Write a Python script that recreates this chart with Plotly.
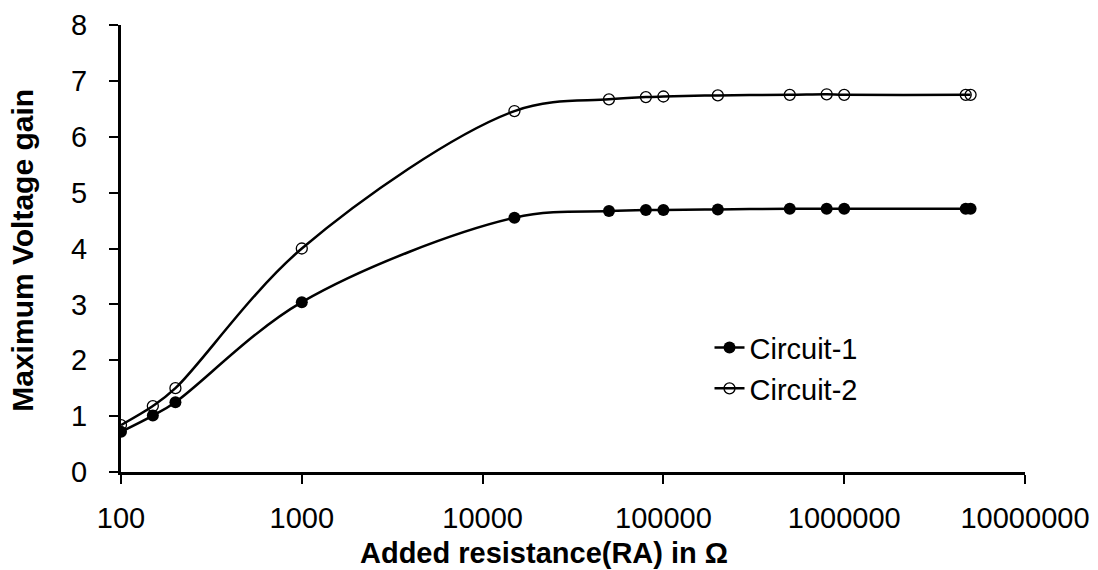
import plotly.graph_objects as go

# Data
resistance = [100, 150, 200, 1000, 15000, 50000, 80000, 100000, 200000,
              500000, 800000, 1000000, 4700000, 5000000]
circuit1 = [0.72, 1.01, 1.25, 3.04, 4.55, 4.67, 4.69, 4.69, 4.70,
            4.71, 4.71, 4.71, 4.71, 4.71]
circuit2 = [0.84, 1.18, 1.50, 4.00, 6.46, 6.67, 6.71, 6.72, 6.74,
            6.75, 6.76, 6.75, 6.75, 6.75]
x_tickvals = [100, 1000, 10000, 100000, 1000000, 10000000]
x_ticktext = ["100", "1000", "10000", "100000", "1000000", "10000000"]
y_tickvals = [0, 1, 2, 3, 4, 5, 6, 7, 8]
x_title = "Added resistance(RA) in Ω"
y_title = "Maximum Voltage gain"

FONT = "Liberation Sans, Arial, sans-serif"
FS = 29

fig = go.Figure()
fig.add_trace(go.Scatter(
    x=resistance, y=circuit1, name="Circuit-1", mode="lines+markers",
    line=dict(color="black", width=2.5, shape="spline", smoothing=1),
    marker=dict(symbol="circle", size=12, color="black"),
))
fig.add_trace(go.Scatter(
    x=resistance, y=circuit2, name="Circuit-2", mode="lines+markers",
    line=dict(color="black", width=2.5, shape="spline", smoothing=1),
    marker=dict(symbol="circle-open", size=11, color="black",
                line=dict(width=1.3, color="black")),
))

fig.update_layout(
    width=1098, height=570,
    margin=dict(l=121, r=73, t=25, b=98, autoexpand=False),
    paper_bgcolor="white", plot_bgcolor="white",
    font=dict(family=FONT, size=FS, color="black"),
    showlegend=True,
    legend=dict(x=0.651, y=0.335, xanchor="left", yanchor="top",
                bgcolor="rgba(0,0,0,0)", font=dict(size=FS),
                tracegroupgap=0, itemwidth=30),
    annotations=[
        dict(text="<b>%s</b>" % x_title, xref="paper", yref="paper",
             x=0.468, y=0, xanchor="center", yanchor="middle", yshift=-81,
             showarrow=False, font=dict(size=FS)),
        dict(text="<b>%s</b>" % y_title, xref="paper", yref="paper",
             x=0, y=0.495, xanchor="center", yanchor="middle", xshift=-98,
             textangle=-90, showarrow=False, font=dict(size=FS + 1)),
    ],
)
fig.update_xaxes(
    type="log", range=[2, 7], automargin=False,
    tickvals=x_tickvals, ticktext=x_ticktext,
    showgrid=False, zeroline=False,
    showline=True, linecolor="black", linewidth=3,
    ticks="outside", ticklen=9, tickwidth=2, tickcolor="black",
    tickfont=dict(size=FS), ticklabelstandoff=9,
)
fig.update_yaxes(
    range=[0, 8], tickvals=y_tickvals, automargin=False,
    showgrid=False, zeroline=False,
    showline=True, linecolor="black", linewidth=3,
    ticks="outside", ticklen=9, tickwidth=2, tickcolor="black",
    tickfont=dict(size=FS), ticklabelstandoff=16,
)

fig.write_html("out.html")
